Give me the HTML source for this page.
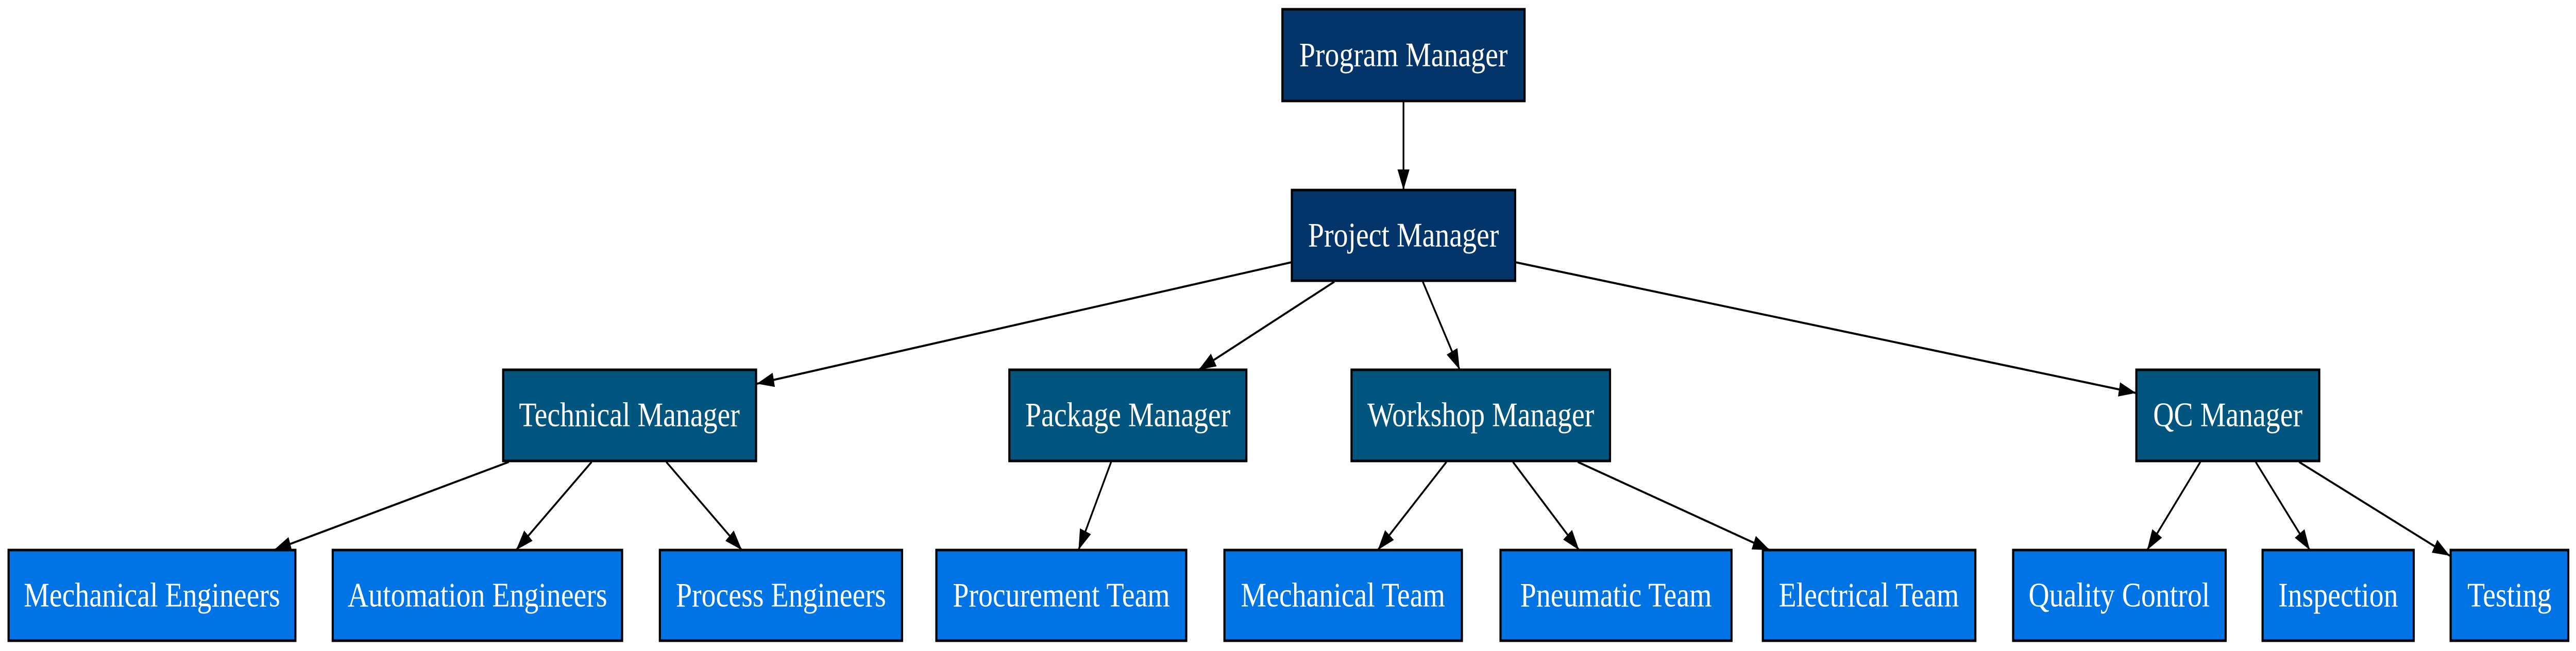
<!DOCTYPE html>
<html><head><meta charset="utf-8"><style>
html,body{margin:0;padding:0;background:#fff;width:100%;height:100%;overflow:hidden;}
svg{display:block;width:100vw;height:100vh;}
text{font-family:"Liberation Serif","Times New Roman",serif;font-size:67px;fill:#fff;text-anchor:middle;dominant-baseline:central;}
rect{stroke:#000;stroke-width:5;}
.a{fill:#03356a}.b{fill:#02557f}.c{fill:#0074e4}
line{stroke:#000;stroke-width:4;}
</style></head><body>
<svg viewBox="0 0 6000 1264" preserveAspectRatio="none" xmlns="http://www.w3.org/2000/svg">
<defs>
<marker id="ar" markerUnits="userSpaceOnUse" markerWidth="44" markerHeight="32" refX="40" refY="14" orient="auto">
<polygon points="0,0 40,14 0,28" fill="#000"/>
</marker>
</defs>
<g marker-end="url(#ar)">
<line x1="3269" y1="196" x2="3269" y2="369"/>
<line x1="3009" y1="509" x2="1763" y2="745"/>
<line x1="3108" y1="547" x2="2792" y2="718"/>
<line x1="3314" y1="547" x2="3400" y2="718"/>
<line x1="3529" y1="509" x2="4975" y2="763"/>
<line x1="1185" y1="897" x2="638" y2="1068"/>
<line x1="1378" y1="897" x2="1202" y2="1068"/>
<line x1="1552" y1="897" x2="1728" y2="1068"/>
<line x1="2588" y1="897" x2="2512" y2="1068"/>
<line x1="3369" y1="897" x2="3209" y2="1068"/>
<line x1="3524" y1="897" x2="3678" y2="1068"/>
<line x1="3675" y1="897" x2="4122" y2="1068"/>
<line x1="5125" y1="897" x2="5001" y2="1068"/>
<line x1="5254" y1="897" x2="5380" y2="1068"/>
<line x1="5355" y1="897" x2="5706" y2="1079"/>
</g>
<rect class="a" x="2987" y="18" width="564" height="178"/><text x="3269" y="107">Program Manager</text>
<rect class="a" x="3009" y="369" width="520" height="176"/><text x="3269" y="457">Project Manager</text>
<rect class="b" x="1172" y="718" width="589" height="177"/><text x="1466" y="806">Technical Manager</text>
<rect class="b" x="2351" y="718" width="552" height="177"/><text x="2627" y="806">Package Manager</text>
<rect class="b" x="3148" y="718" width="602" height="177"/><text x="3449" y="806">Workshop Manager</text>
<rect class="b" x="4976" y="718" width="426" height="177"/><text x="5189" y="806">QC Manager</text>
<rect class="c" x="20" y="1068" width="668" height="176"/><text x="354" y="1156">Mechanical Engineers</text>
<rect class="c" x="775" y="1068" width="674" height="176"/><text x="1112" y="1156">Automation Engineers</text>
<rect class="c" x="1537" y="1068" width="564" height="176"/><text x="1819" y="1156">Process Engineers</text>
<rect class="c" x="2181" y="1068" width="582" height="176"/><text x="2472" y="1156">Procurement Team</text>
<rect class="c" x="2852" y="1068" width="553" height="176"/><text x="3128" y="1156">Mechanical Team</text>
<rect class="c" x="3495" y="1068" width="538" height="176"/><text x="3764" y="1156">Pneumatic Team</text>
<rect class="c" x="4106" y="1068" width="495" height="176"/><text x="4353" y="1156">Electrical Team</text>
<rect class="c" x="4689" y="1068" width="495" height="176"/><text x="4936" y="1156">Quality Control</text>
<rect class="c" x="5270" y="1068" width="352" height="176"/><text x="5446" y="1156">Inspection</text>
<rect class="c" x="5708" y="1068" width="274" height="176"/><text x="5845" y="1156">Testing</text>
</svg>
</body></html>
